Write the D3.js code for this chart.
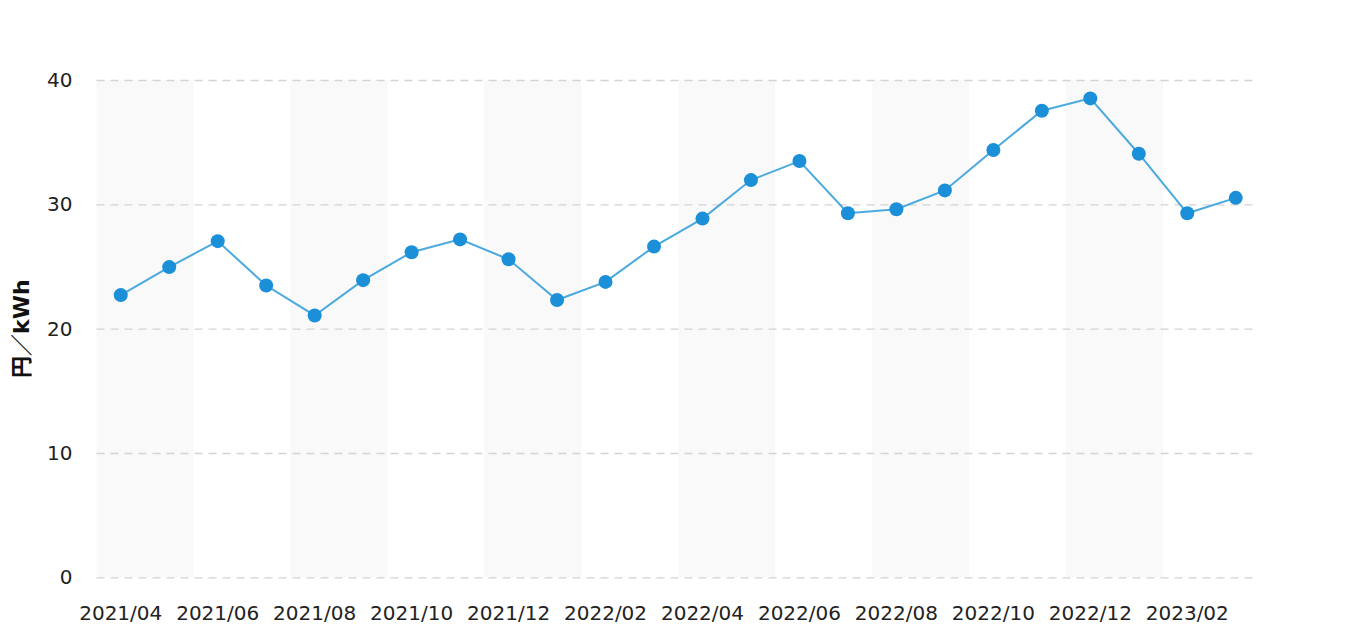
<!DOCTYPE html>
<html>
<head>
<meta charset="utf-8">
<script src="https://cdn.jsdelivr.net/npm/d3@7"></script>
<style>
  html, body { margin: 0; padding: 0; background: #fff; }
  svg { display: block; }
</style>
</head>
<body>
<svg id="chart" width="1360" height="636"></svg>
<script>
const months = ["2021/04","2021/05","2021/06","2021/07","2021/08","2021/09","2021/10","2021/11","2021/12",
  "2022/01","2022/02","2022/03","2022/04","2022/05","2022/06","2022/07","2022/08","2022/09","2022/10","2022/11","2022/12",
  "2023/01","2023/02","2023/03"];
const prices = [22.7, 24.95, 27.04, 23.47, 21.06, 23.9, 26.15, 27.18, 25.58,
  22.3, 23.76, 26.6, 28.85, 31.95, 33.48, 29.28, 29.6, 31.12,
  34.37, 37.53, 38.52, 34.07, 29.28, 30.52];
const yTicks = [0, 10, 20, 30, 40];
const yTitle = "円／kWh";

const svg = d3.select("#chart");
const plotLeft = 96.5, plotRight = 1260, gridRight = 1256, plotTop = 80, plotBottom = 577.3;

const x = d3.scaleBand().domain(months).range([plotLeft, plotRight]).paddingInner(0).paddingOuter(0);
const y = d3.scaleLinear().domain([0, 40]).range([plotBottom, plotTop]);

// alternating bands every 2 months
const bandGroups = d3.range(0, months.length, 4);
svg.append("g").selectAll("rect").data(bandGroups).join("rect")
  .attr("x", i => x(months[i]))
  .attr("y", plotTop)
  .attr("width", x.bandwidth() * 2)
  .attr("height", plotBottom - plotTop)
  .attr("fill", "#f9f9f9");

// grid lines
const yAxis = d3.axisLeft(y).tickValues(yTicks).tickSize(-(gridRight - plotLeft)).tickPadding(24);
const gy = svg.append("g").attr("transform", `translate(${plotLeft},0)`).call(yAxis);
gy.select(".domain").remove();
gy.selectAll(".tick line").attr("stroke", "#d4d4d4").attr("stroke-width", 1.3).attr("stroke-dasharray", "8,6");
gy.selectAll(".tick text")
  .attr("font-family", "'DejaVu Sans', Verdana, sans-serif")
  .attr("font-size", 20).attr("fill", "#222");

// x axis labels (every 2 months)
const xAxis = d3.axisBottom(x).tickValues(months.filter((d, i) => i % 2 === 0)).tickSize(0).tickPadding(0);
const gx = svg.append("g").attr("transform", `translate(0,${plotBottom})`).call(xAxis);
gx.select(".domain").remove();
gx.selectAll(".tick text")
  .attr("font-family", "'DejaVu Sans', Verdana, sans-serif")
  .attr("font-size", 20).attr("fill", "#222")
  .attr("dy", null).attr("y", 43);

// y title
svg.append("text")
  .attr("transform", `translate(29,${(plotTop + plotBottom) / 2}) rotate(-90)`)
  .attr("text-anchor", "middle")
  .attr("font-family", "'DejaVu Sans', 'Noto Sans CJK JP', sans-serif")
  .attr("font-weight", "bold")
  .attr("font-size", 22)
  .attr("fill", "#111")
  .text(yTitle);

const cx = d => x(d) + x.bandwidth() / 2;

// line
svg.append("path")
  .datum(prices)
  .attr("fill", "none")
  .attr("stroke", "#4aa9df")
  .attr("stroke-width", 2)
  .attr("d", d3.line().x((d, i) => cx(months[i])).y(d => y(d)));

// points
svg.append("g").selectAll("circle").data(prices).join("circle")
  .attr("cx", (d, i) => cx(months[i]))
  .attr("cy", d => y(d))
  .attr("r", 7)
  .attr("fill", "#1b8fd8");
</script>
</body>
</html>
